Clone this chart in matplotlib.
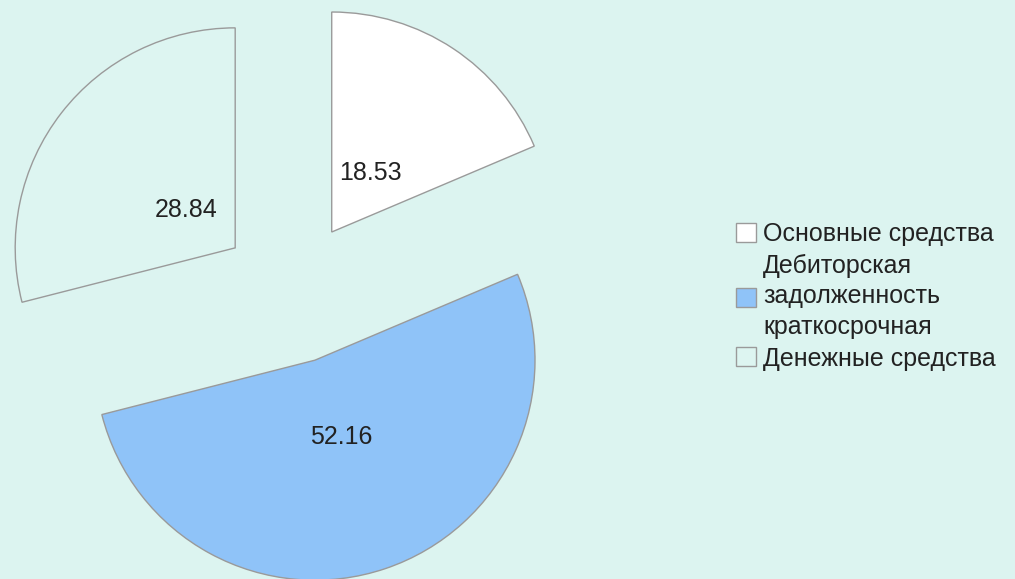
import numpy as np
import matplotlib.pyplot as plt

# data
labels = ['Основные средства', 'Дебиторская\nзадолженность\nкраткосрочная', 'Денежные средства']
values = [18.53, 52.16, 28.84]
colors = ['#ffffff', '#8fc3f8', '#ddf5f1']

# radial position of each value label (fraction of radius from the wedge tip)
label_dist = [0.32, 0.37, 0.28]

bg = '#dcf4f0'
plt.rcParams['font.family'] = ['Liberation Sans', 'DejaVu Sans']

fig = plt.figure(figsize=(10.15, 5.79), dpi=100, facecolor=bg)
W, H = 1015, 579
# pie centre (px from left / bottom) and radius in px
cx, cy, rad = 292, 287, 220
half = 1.5 * rad
ax = fig.add_axes([(cx - half) / W, (cy - half) / H, 2 * half / W, 2 * half / H])
ax.set_facecolor(bg)

explode = 0.327
wedges, _ = ax.pie(
    values, colors=colors, startangle=90, counterclock=False,
    explode=[explode] * 3, radius=1.0,
    wedgeprops=dict(edgecolor='#9a9a9a', linewidth=1.0))
for w, v, d in zip(wedges, values, label_dist):
    w.set_clip_on(False)
    ang = np.deg2rad((w.theta1 + w.theta2) / 2)
    x0, y0 = w.center
    ax.text(x0 + d * np.cos(ang), y0 + d * np.sin(ang), '%.2f' % v,
            ha='center', va='center', fontsize=18, color='#222222')
ax.set_xlim(-1.5, 1.5)
ax.set_ylim(-1.5, 1.5)
ax.axis('off')

leg = fig.legend(wedges, labels, loc='center left', bbox_to_anchor=(723 / W, 0.488),
                 frameon=False, fontsize=18, handlelength=0.8, handleheight=0.8,
                 handletextpad=0.3, labelspacing=0.32, borderpad=0,
                 labelcolor='#222222')
for t in leg.get_texts():
    t.set_linespacing(1.32)

fig.savefig('out.png', dpi=100, facecolor=bg)
